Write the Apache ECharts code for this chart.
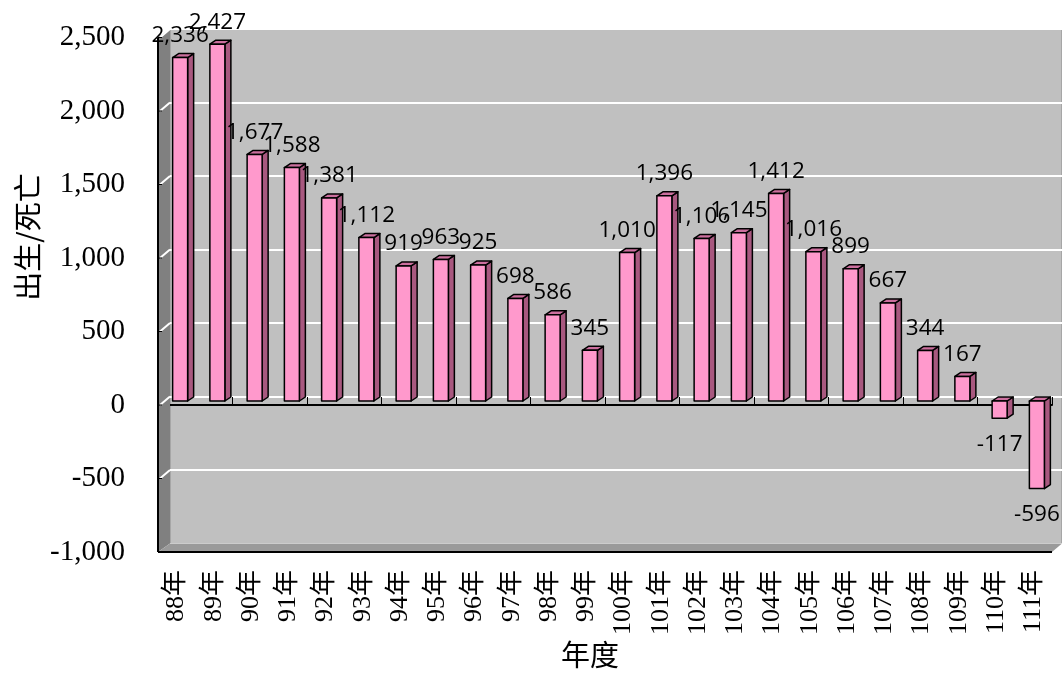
<!DOCTYPE html>
<html>
<head>
<meta charset="utf-8">
<script src="https://cdn.jsdelivr.net/npm/echarts@6/dist/echarts.min.js"></script>
<style>
html,body{margin:0;padding:0;background:#fff;}
#chart{width:1062px;height:673px;}
</style>
</head>
<body>
<div id="chart"></div>
<script>
// ---- data ----
const categories = ['88年','89年','90年','91年','92年','93年','94年','95年','96年','97年','98年','99年',
  '100年','101年','102年','103年','104年','105年','106年','107年','108年','109年','110年','111年'];
const values = [2336, 2427, 1677, 1588, 1381, 1112, 919, 963, 925, 698, 586, 345,
  1010, 1396, 1106, 1145, 1412, 1016, 899, 667, 344, 167, -117, -596];
const yMin = -1000, yMax = 2500, yInterval = 500;
const yAxisTitle = '出生/死亡';
const xAxisTitle = '年度';

// ---- layout / style ----
const W = 1062, H = 673;
const front = {left: 158, right: 10, top: 37.5, bottom: 121};
const back = {left: 170, right: 0, top: 29, bottom: 129.5};
const serif = '"Liberation Serif", "Noto Sans CJK TC", serif';
const fmt = v => Number(v).toLocaleString('en-US');

const chart = echarts.init(document.getElementById('chart'), null, {renderer: 'canvas'});

const option = {
  animation: false,
  backgroundColor: '#ffffff',
  grid: [
    Object.assign({show: true, backgroundColor: '#c0c0c0', borderColor: '#8c8c8c', borderWidth: 1, outerBoundsMode: 'none'}, back),
    Object.assign({show: false, outerBoundsMode: 'none'}, front)
  ],
  xAxis: [
    {gridIndex: 0, type: 'category', data: categories, show: false},
    {gridIndex: 1, type: 'category', data: categories, position: 'bottom',
      axisLine: {show: false, onZero: false}, axisTick: {show: false},
      axisLabel: {rotate: 90, margin: 18, fontSize: 26, fontFamily: serif, color: '#000', interval: 0}},
    {gridIndex: 1, type: 'category', data: categories, position: 'top',
      axisLine: {show: true, onZero: true, lineStyle: {color: '#000', width: 2}},
      axisTick: {show: true, inside: false, length: 8, lineStyle: {color: '#000', width: 1}},
      axisLabel: {show: false}}
  ],
  yAxis: [
    {gridIndex: 0, type: 'value', min: yMin, max: yMax, interval: yInterval,
      axisLine: {show: false}, axisTick: {show: false}, axisLabel: {show: false},
      splitLine: {show: true, lineStyle: {color: '#ffffff', width: 2}}},
    {gridIndex: 1, type: 'value', min: yMin, max: yMax, interval: yInterval,
      axisLine: {show: false}, axisTick: {show: false}, splitLine: {show: false},
      axisLabel: {margin: 33, fontSize: 29, fontFamily: serif, color: '#000', formatter: fmt}}
  ],
  series: [{
    type: 'custom',
    xAxisIndex: 1, yAxisIndex: 1,
    data: values.map((v, i) => [i, v]),
    z: 5,
    renderItem: function (params, api) {
      const i = api.value(0), v = api.value(1);
      const base = api.coord([i, 0]);
      const tip = api.coord([i, v]);
      const w = 15, dx = 6, dy = -4, ox = 3.5, oy = -4;
      const cx = tip[0] + ox;
      const x0 = cx - w / 2, x1 = cx + w / 2;
      const yT = Math.min(base[1], tip[1]) + oy;
      const yB = Math.max(base[1], tip[1]) + oy;
      const stroke = {stroke: '#000', lineWidth: 1.5, lineJoin: 'round'};
      const labelY = v >= 0 ? yT - 22 : yB + 26;
      return {
        type: 'group',
        children: [
          {type: 'polygon', shape: {points: [[x1, yT], [x1 + dx, yT + dy], [x1 + dx, yB + dy], [x1, yB]]},
            style: Object.assign({fill: '#a8587f'}, stroke)},
          {type: 'polygon', shape: {points: [[x0, yT], [x0 + dx, yT + dy], [x1 + dx, yT + dy], [x1, yT]]},
            style: Object.assign({fill: '#cc6f9e'}, stroke)},
          {type: 'rect', shape: {x: x0, y: yT, width: w, height: yB - yT},
            style: Object.assign({fill: '#ff99cc'}, stroke)},
          {type: 'text', z2: 10, style: {text: fmt(v), x: cx, y: labelY, align: 'center', verticalAlign: 'middle',
            fontSize: 22.5, fontFamily: '"Open Sans", "Noto Sans", sans-serif', fill: '#000'}}
        ]
      };
    }
  }]
};
chart.setOption(option);

// ---- 3D decoration (walls, floor, edges) computed from the axes ----
const fl = front.left, fb = H - front.bottom, ft = front.top, fr = W - front.right;
const bl = back.left, bb = H - back.bottom, bt = back.top, br = W - back.right;
const els = [];
els.push({type: 'polygon', z: 1, shape: {points: [[fl, ft], [bl, bt], [bl, bb], [fl, fb]]}, style: {fill: '#808080'}});
els.push({type: 'polygon', z: 1, shape: {points: [[fl, fb], [fr, fb], [br, bb], [bl, bb]]}, style: {fill: '#9a9a9a'}});
for (let v = yMin; v <= yMax; v += yInterval) {
  const pf = chart.convertToPixel({yAxisIndex: 1}, v);
  const pb = chart.convertToPixel({yAxisIndex: 0}, v);
  if (v > yMin) {
    els.push({type: 'line', z: 2, shape: {x1: fl + 2, y1: pf, x2: bl, y2: pb}, style: {stroke: '#ffffff', lineWidth: 2}});
  }
  els.push({type: 'line', z: 3, shape: {x1: fl, y1: pf, x2: fl + 4, y2: pf}, style: {stroke: '#000', lineWidth: 1}});
}
els.push({type: 'line', z: 3, shape: {x1: fl, y1: ft, x2: fl, y2: fb}, style: {stroke: '#000', lineWidth: 2}});
els.push({type: 'line', z: 3, shape: {x1: fl, y1: fb, x2: fr, y2: fb}, style: {stroke: '#000', lineWidth: 2}});
els.push({type: 'text', z: 3, x: 28, y: 237, rotation: Math.PI / 2,
  style: {text: yAxisTitle, align: 'center', verticalAlign: 'middle', fontSize: 29, fontFamily: '"Noto Sans CJK TC", sans-serif', fill: '#000'}});
els.push({type: 'text', z: 3, x: 590, y: 655,
  style: {text: xAxisTitle, align: 'center', verticalAlign: 'middle', fontSize: 29, fontFamily: '"Noto Sans CJK TC", sans-serif', fill: '#000'}});
chart.setOption({graphic: {elements: els}});
</script>
</body>
</html>
